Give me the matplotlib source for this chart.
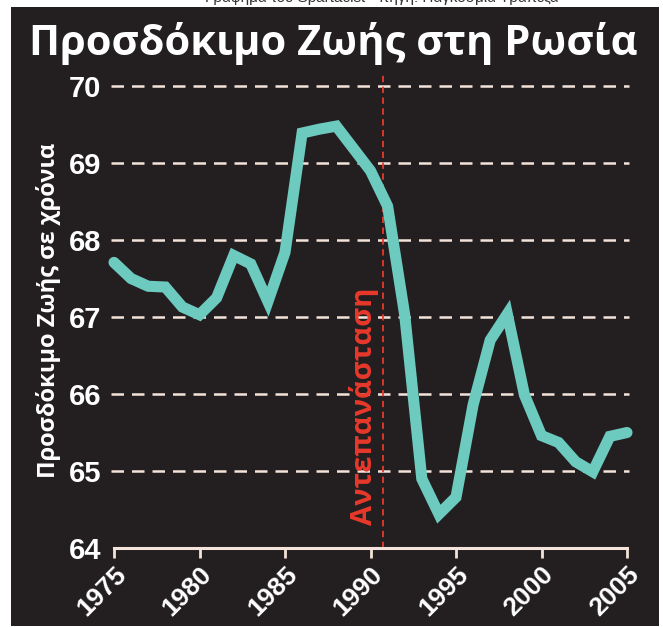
import matplotlib.pyplot as plt
from matplotlib.patches import Rectangle

# Προσδόκιμο ζωής στη Ρωσία (έτη)
years = list(range(1975, 2006))
life_exp = [67.71, 67.50, 67.40, 67.39, 67.13, 67.03, 67.25, 67.80, 67.69, 67.20,
            67.84, 69.39, 69.44, 69.48, 69.19, 68.90, 68.44, 67.03, 64.90, 64.44,
            64.66, 65.86, 66.70, 67.04, 65.99, 65.46, 65.37, 65.12, 64.99, 65.45,
            65.50]
y_ticks = [64, 65, 66, 67, 68, 69, 70]
x_ticks = [1975, 1980, 1985, 1990, 1995, 2000, 2005]
event_year = 1990.75

bg = '#231f20'
line_color = '#6ccabf'
grid_color = '#f3e3da'
red = '#e8392b'

plt.rcParams['font.family'] = ['Liberation Sans', 'DejaVu Sans']

fig = plt.figure(figsize=(6.63, 6.27), dpi=100)
fig.patch.set_facecolor('white')
fig.patches.append(Rectangle((11 / 663, 1 / 627), 648 / 663, 619 / 627,
                             transform=fig.transFigure, facecolor=bg,
                             edgecolor='none', zorder=-5))

# Κομμένη πηγή στην κορυφή
fig.text(205 / 663, 1.003, 'Γράφημα του Spartacist - πηγή: Παγκόσμια Τράπεζα',
         fontsize=11, color='#333333', ha='left', va='center')

fig.text(0.503, 0.93, 'Προσδόκιμο Ζωής στη Ρωσία', color='white',
         fontsize=30, fontweight='bold', ha='center', va='center',
         family=['Open Sans', 'DejaVu Sans'])

ax = fig.add_axes([114 / 663, 79 / 627, 513 / 663, 475 / 627])
ax.set_facecolor('none')
ax.set_xlim(1975, 2005)
ax.set_ylim(64, 70.17)

for v in y_ticks[1:]:
    ax.axhline(v, color=grid_color, linewidth=1.8, dashes=(5, 3.2), zorder=1,
               xmin=-0.005, xmax=1.003, clip_on=False)

ax.axvline(event_year, color=red, linewidth=1.3, dashes=(3.5, 2.5), zorder=2)
ax.text(event_year - 1.15, 64.3, 'Αντεπανάσταση', rotation=90, color=red,
        fontsize=21, fontweight='bold', ha='center', va='bottom',
        family=['Open Sans', 'DejaVu Sans'])

ax.plot(years, life_exp, color=line_color, linewidth=8,
        solid_capstyle='round', solid_joinstyle='miter', zorder=3, clip_on=False)

for s in ['top', 'right', 'left']:
    ax.spines[s].set_visible(False)
ax.spines['bottom'].set_color(grid_color)
ax.spines['bottom'].set_linewidth(2.2)

ax.set_yticks(y_ticks)
ax.set_yticklabels([str(v) for v in y_ticks], fontsize=21, fontweight='bold',
                   color='white')
ax.tick_params(axis='y', length=0, pad=9)

ax.set_xticks(x_ticks)
ax.set_xticklabels([str(v) for v in x_ticks], fontsize=19, fontweight='bold',
                   color='white', rotation=45, ha='right', rotation_mode='anchor')
ax.tick_params(axis='x', length=7, width=2, color=grid_color, pad=3)

ax.set_ylabel('Προσδόκιμο Ζωής σε χρόνια', color='white', fontsize=17,
              fontweight='bold', labelpad=6, family=['Open Sans', 'DejaVu Sans'])

fig.savefig('out.png', dpi=100, facecolor=fig.get_facecolor())
